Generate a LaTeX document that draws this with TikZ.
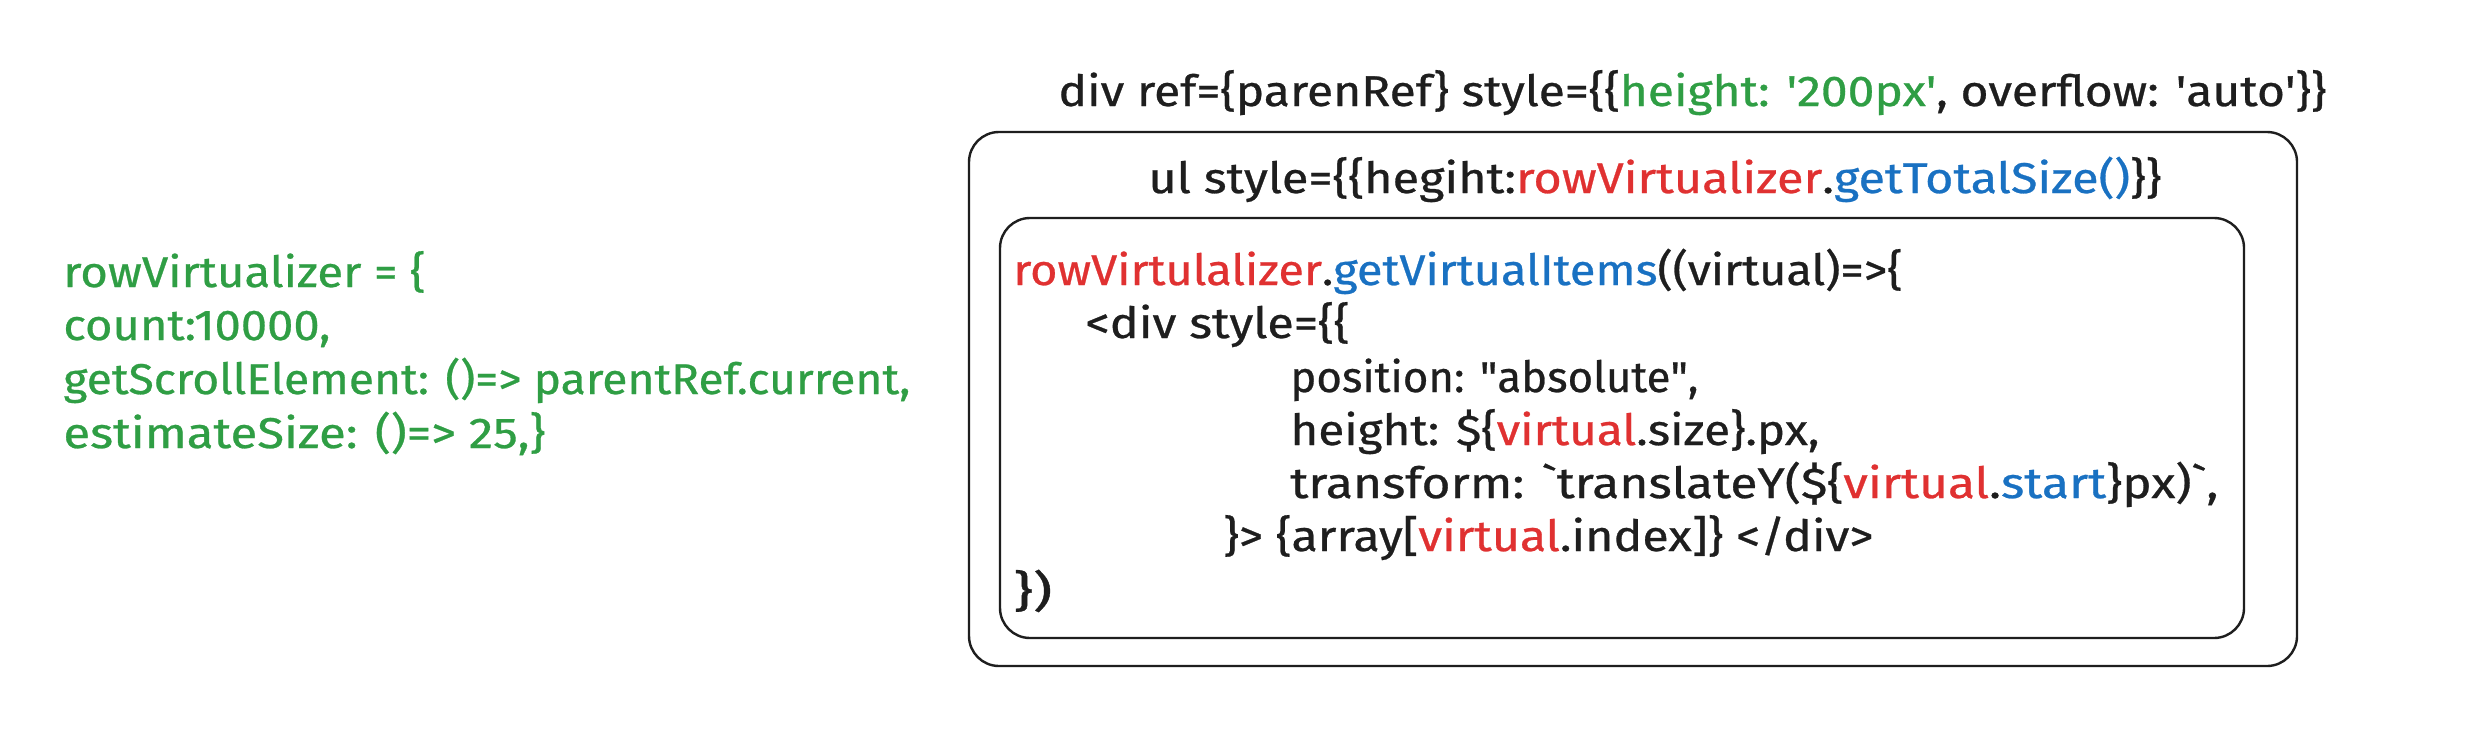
\documentclass[tikz,border=0pt]{standalone}
\usepackage{graphicx}
\usepackage{fontspec}
\setmainfont{Fira Sans}[FakeBold=0.6]
\definecolor{ink}{HTML}{1E1E1E}
\definecolor{xgreen}{HTML}{2F9E44}
\definecolor{xred}{HTML}{E03131}
\definecolor{xblue}{HTML}{1971C2}
\newcommand{\cgreen}[1]{\textcolor{xgreen}{#1}}
\newcommand{\cred}[1]{\textcolor{xred}{#1}}
\newcommand{\cblue}[1]{\textcolor{xblue}{#1}}
% fit text to a width (pt), keeping its height
\newcommand{\fitto}[2]{\resizebox{#1pt}{\height}{#2}}
\begin{document}
\begin{tikzpicture}[x=0.5pt,y=-0.5pt,
  codeline/.style={anchor=base west, inner sep=0pt, font=\fontsize{21.5}{26.75}\selectfont, text=ink},
  greenline/.style={codeline, text=xgreen},
  box/.style={draw=ink, line width=1.2pt, rounded corners=15pt, inner sep=0pt}]
\useasboundingbox (0,0) rectangle (2478,740);
\fill[white] (0,0) rectangle (2478,740);

% boxes
\node[box, minimum width=664pt, minimum height=267pt] (outer) at (1633,399) {};
\node[box, minimum width=622pt, minimum height=210pt] (inner) at (1622,428) {};

% titles
\node[codeline] (title) at (1058,106) {\fitto{634}{div ref=\{parenRef\} style=\{\{\cgreen{height: \textquotesingle200px\textquotesingle}, overflow: \textquotesingle auto\textquotesingle\}\}}};
\node[codeline] (ultitle) at (1148,193) {\fitto{506.5}{ul style=\{\{hegiht:\cred{rowVirtualizer}.\cblue{getTotalSize()}\}\}}};

% code lines
\node[codeline] (c1) at (1013,285) {\fitto{444.5}{\cred{rowVirtulalizer}.\cblue{getVirtualItems}((virtual)=>\{}};
\node[codeline] (c2) at (1085,338) {\fitto{132}{<div style=\{\{}};
\node[codeline] (c3) at (1290,392) {\fitto{204}{position: \textquotedbl absolute\textquotedbl,}};
\node[codeline] (c4) at (1290,445) {\fitto{264.5}{height: \$\{\cred{virtual}.size\}.px,}};
\node[codeline] (c5) at (1290,498) {\fitto{464}{transform: \textasciigrave translateY(\$\{\cred{virtual}.\cblue{start}\}px)\textasciigrave,}};
\node[codeline] (c6) at (1223,551) {\fitto{325}{\}> \{array[\cred{virtual}.index]\} </div>}};
\node[codeline] (c7) at (1013,606) {\fitto{19.5}{\})}};

% left text
\node[greenline] (l1) at (63,287) {\fitto{181}{rowVirtualizer = \{}};
\node[greenline] (l2) at (63,340) {\fitto{133.5}{count:10000,}};
\node[greenline] (l3) at (63,394) {\fitto{423.5}{getScrollElement: ()=> parentRef.current,}};
\node[greenline] (l4) at (63,448) {\fitto{241}{estimateSize: ()=> 25,\}}};
\end{tikzpicture}
\end{document}
